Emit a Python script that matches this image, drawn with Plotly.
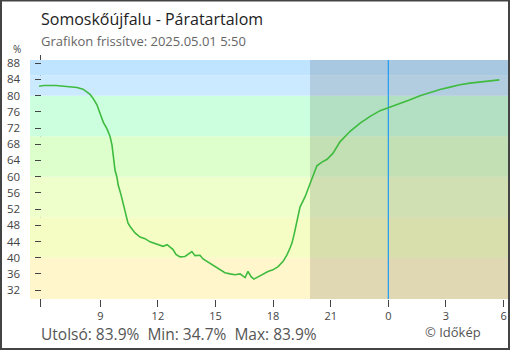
import plotly.graph_objects as go

# Relative humidity over the last 24 hours (hours counted from midnight of the first day)
hours = [5.81, 6.07, 6.70, 7.32, 7.79, 8.10, 8.30, 8.47, 8.64, 8.82, 8.99, 9.16, 9.35, 9.51,
         9.61, 9.68, 9.77, 9.87, 9.93, 10.08, 10.23, 10.34, 10.44, 10.55, 10.65, 10.81, 11.07,
         11.33, 11.59, 11.85, 12.11, 12.27, 12.48, 12.63, 12.79, 12.94, 13.15, 13.41, 13.67,
         13.77, 13.93, 14.19, 14.35, 14.55, 14.87, 15.23, 15.49, 15.76, 16.01, 16.28, 16.54,
         16.69, 16.85, 17.00, 17.21, 17.47, 17.73, 17.99, 18.26, 18.52, 18.72, 18.88, 18.98,
         19.09, 19.19, 19.29, 19.40, 19.66, 19.92, 20.07, 20.28, 20.54, 20.81, 21.12, 21.48,
         22.01, 22.53, 23.05, 23.57, 24.00, 24.61, 25.13, 25.65, 26.17, 26.69, 27.21, 27.73,
         28.25, 28.77, 29.29, 29.78]
humidity = [82.3, 82.5, 82.5, 82.3, 82.0, 81.6, 81.0, 80.3, 79.2, 77.8, 75.6, 73.4, 71.8, 69.9,
            67.8, 64.5, 61.5, 59.8, 58.0, 55.5, 52.6, 49.8, 48.6, 47.7, 47.0, 46.1, 45.1,
            44.7, 43.9, 43.5, 43.2, 42.8, 43.2, 42.6, 42.0, 40.8, 40.2, 40.3, 41.3,
            41.5, 40.5, 40.6, 39.7, 39.1, 38.0, 37.0, 36.3, 36.0, 35.8, 36.0, 35.1,
            36.6, 35.3, 34.7, 35.2, 35.8, 36.6, 37.0, 37.8, 39.1, 40.7, 42.4, 43.6,
            45.7, 48.1, 50.0, 52.5, 55.0, 58.0, 60.1, 62.7, 63.6, 64.3, 65.8, 68.6,
            71.2, 73.2, 74.9, 76.3, 77.0, 78.0, 79.0, 80.0, 80.8, 81.5, 82.1, 82.7,
            83.1, 83.4, 83.8, 83.9]

x_tick_vals = [9, 12, 15, 18, 21, 24, 27, 30]
x_tick_text = ["9", "12", "15", "18", "21", "0", "3", "6"]
y_tick_vals = [32, 36, 40, 44, 48, 52, 56, 60, 64, 68, 72, 76, 80, 84, 88]

# Humidity colour bands: (lower, upper) and colour
band_edges = [(0, 40), (40, 50), (50, 60), (60, 70), (70, 80), (80, 85), (85, 100)]
band_colors = ["#fff6cc", "#f6fdc4", "#eeffcc", "#ddffcc", "#ccffdd", "#cceaff", "#bfe4ff"]

sunset = 19.92
midnight = 24.0
x_range = [5.34, 30.23]
y_range = [29.8, 88.8]

title = "Somoskőújfalu - Páratartalom"
subtitle = "Grafikon frissítve: 2025.05.01 5:50"
last_val, min_val, max_val = humidity[-1], min(humidity), max(humidity)
summary = f"Utolsó: {last_val:.1f}%  Min: {min_val:.1f}%  Max: {max_val:.1f}%"
credit = "© Időkép"

W, H = 510, 350
ML, MR, MT, MB = 30, 2, 60, 51
PW, PH = W - ML - MR, H - MT - MB


def px_x(px):
    return (px - ML) / PW


def px_y(py):
    return (H - MB - py) / PH


FONT = "Open Sans"
TICK_COL = "#444444"

fig = go.Figure()
fig.add_trace(go.Scatter(
    x=hours, y=humidity, mode="lines",
    line=dict(color="#3fbb3f", width=1.6),
    hoverinfo="skip", showlegend=False,
))

shapes = []
# y axis line (only visible above and below the coloured background)
axis_x = px_x(40.5)
shapes.append(dict(type="line", xref="paper", yref="paper", x0=axis_x, x1=axis_x,
                   y0=px_y(307), y1=px_y(55), line=dict(color=TICK_COL, width=1), layer="below"))
for (lo, hi), col in zip(band_edges, band_colors):
    shapes.append(dict(type="rect", xref="paper", yref="y", x0=0, x1=1,
                       y0=max(lo, y_range[0]), y1=min(hi, y_range[1]),
                       fillcolor=col, line=dict(width=0), layer="below"))
# night shading
shapes.append(dict(type="rect", xref="x", yref="paper", x0=sunset, x1=x_range[1], y0=0, y1=1,
                   fillcolor="rgba(0,0,0,0.12)", line=dict(width=0), layer="below"))
# midnight marker
shapes.append(dict(type="line", xref="x", yref="paper", x0=midnight, x1=midnight, y0=0, y1=1,
                   line=dict(color="#2a9ff0", width=1.3), layer="below"))
# outer frame
shapes.append(dict(type="rect", xref="paper", yref="paper", x0=px_x(1), x1=px_x(509),
                   y0=px_y(349), y1=px_y(0.5), line=dict(color="#444444", width=2),
                   fillcolor="rgba(0,0,0,0)", layer="above"))

annotations = [
    dict(text=title, x=px_x(39), y=px_y(19), xref="paper", yref="paper",
         xanchor="left", yanchor="middle", showarrow=False,
         font=dict(family=FONT, size=16, color="#222222")),
    dict(text=subtitle, x=px_x(39), y=px_y(41), xref="paper", yref="paper",
         xanchor="left", yanchor="middle", showarrow=False,
         font=dict(family=FONT, size=13, color="#666666")),
    dict(text="%", x=px_x(17), y=px_y(48.5), xref="paper", yref="paper",
         xanchor="center", yanchor="middle", showarrow=False,
         font=dict(family=FONT, size=10, color="#444444")),
    dict(text=summary, x=px_x(39), y=px_y(333.5), xref="paper", yref="paper",
         xanchor="left", yanchor="middle", showarrow=False,
         font=dict(family=FONT, size=15.5, color="#555555")),
    dict(text=credit, x=px_x(453), y=px_y(332), xref="paper", yref="paper",
         xanchor="center", yanchor="middle", showarrow=False,
         font=dict(family=FONT, size=13, color="#555555")),
]

fig.update_layout(
    width=W, height=H,
    margin=dict(l=ML, r=MR, t=MT, b=MB, pad=0),
    paper_bgcolor="white", plot_bgcolor="white",
    showlegend=False,
    shapes=shapes, annotations=annotations,
    xaxis=dict(range=x_range, tickvals=x_tick_vals, ticktext=x_tick_text,
               ticks="outside", ticklen=7, tickcolor=TICK_COL, tickwidth=1,
               showgrid=False, zeroline=False, showline=False,
               tickfont=dict(family=FONT, size=11, color="#444444")),
    yaxis=dict(range=y_range, tickvals=y_tick_vals, anchor="free", position=axis_x,
               ticks="outside", ticklen=6, tickcolor=TICK_COL, tickwidth=1,
               ticklabelstandoff=12,
               showgrid=False, zeroline=False, showline=False,
               tickfont=dict(family=FONT, size=11.5, color="#444444")),
    yaxis2=dict(range=y_range, tickvals=y_tick_vals, anchor="free", position=axis_x,
                overlaying="y", ticks="inside", ticklen=7, tickcolor=TICK_COL, tickwidth=1,
                showticklabels=False, showgrid=False, zeroline=False, showline=False),
)

fig.write_html("out.html")
